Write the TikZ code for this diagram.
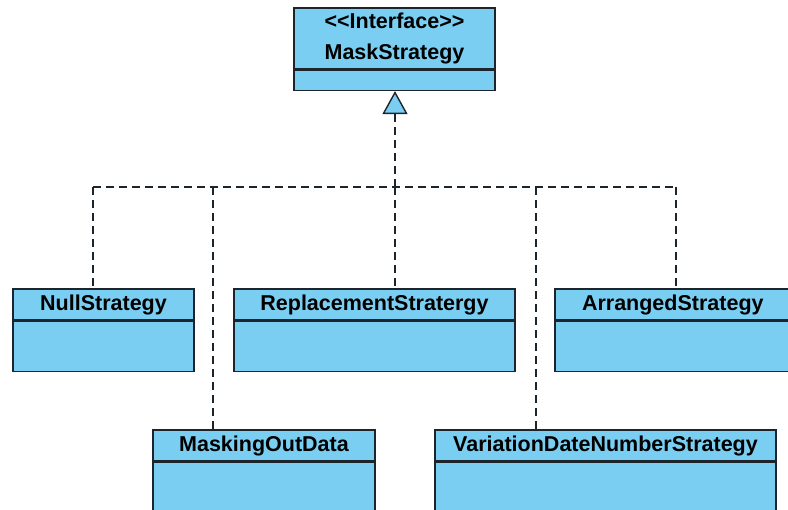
\documentclass[tikz,border=0pt]{standalone}
\usepackage{fontspec}
\setmainfont{Liberation Sans}
\usetikzlibrary{arrows.meta}
\definecolor{classfill}{RGB}{122,206,242}
\definecolor{classline}{RGB}{28,36,44}
\begin{document}
\begin{tikzpicture}[x=1pt,y=-1pt,
  classhead/.style={draw=classline, fill=classfill, line width=1.4pt, inner sep=0pt,
    font=\fontsize{21.5}{24}\selectfont\bfseries, align=center},
  classbody/.style={draw=classline, fill=classfill, line width=1.4pt, inner sep=0pt, anchor=north},
  realize/.style={draw=classline, line width=1.3pt, dash pattern=on 8pt off 5pt},
]
\useasboundingbox (0,0) rectangle (788,510);

% interface
\node[classhead, minimum width=201pt, minimum height=61pt] (ms) at (394.5,38.5)
  {\rule{0pt}{15pt}{<}{<}Interface{>}{>}\\[7pt]MaskStrategy};
\node[classbody, minimum width=201pt, minimum height=20pt] (msb) at (ms.south) {};

% implementing classes, upper row
\node[classhead, minimum width=181pt, minimum height=31pt] (null) at (103.5,304.5) {\raisebox{-2.5pt}{NullStrategy}};
\node[classbody, minimum width=181pt, minimum height=50pt] (nullb) at (null.south) {};
\node[classhead, minimum width=281pt, minimum height=31pt] (repl) at (374.5,304.5) {\raisebox{-2.5pt}{ReplacementStratergy}};
\node[classbody, minimum width=281pt, minimum height=50pt] (replb) at (repl.south) {};
\node[classhead, minimum width=240pt, minimum height=31pt, text width=230pt, align=left] (arr) at (675,304.5) {\hspace*{22pt}\raisebox{-2.5pt}{ArrangedStrategy}};
\node[classbody, minimum width=240pt, minimum height=50pt] (arrb) at (arr.south) {};

% implementing classes, lower row
\node[classhead, minimum width=222pt, minimum height=31pt] (mod) at (264,445.5) {\raisebox{-2.5pt}{MaskingOutData}};
\node[classbody, minimum width=222pt, minimum height=60pt] (modb) at (mod.south) {};
\node[classhead, minimum width=341pt, minimum height=31pt] (var) at (605.5,445.5) {\raisebox{-2.5pt}{VariationDateNumberStrategy}};
\node[classbody, minimum width=341pt, minimum height=60pt] (varb) at (var.south) {};

% realization connectors
\coordinate (bus) at (395,187);
\coordinate (busl) at (93,187);
\coordinate (busr) at (676,187);
\coordinate (mod top) at (213,430);
\coordinate (var top) at (536,430);
\draw[realize] (busl) -- (busr);
\draw[realize] (busl) -- (busl |- null.north);
\draw[realize] (bus) -- (bus |- repl.north);
\draw[realize] (busr) -- (busr |- arr.north);
\draw[realize] (mod top |- bus) -- (mod top);
\draw[realize] (var top |- bus) -- (var top);
\draw[realize, -{Triangle[open, fill=classfill, length=23pt, width=25pt, line width=1.4pt]}]
  (bus) -- (bus |- msb.south);
\end{tikzpicture}
\end{document}
